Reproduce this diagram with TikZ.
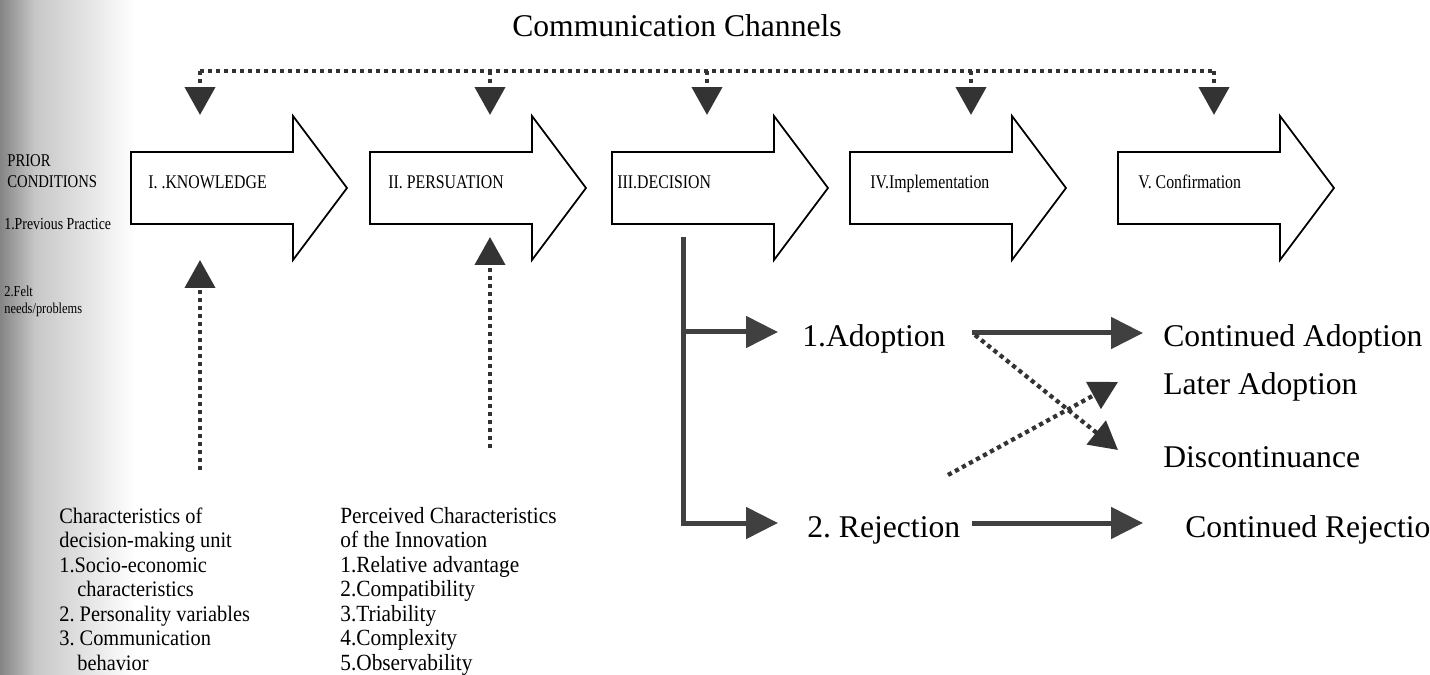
\documentclass[tikz,border=0pt]{standalone}
\usepackage{fontspec}
\setmainfont{Liberation Serif}
\newfontfamily\condfont{Liberation Serif}[FakeStretch=0.82]
\newfontfamily\narrowfont{Liberation Serif}[FakeStretch=0.92]
\usepackage{tikz}
\usetikzlibrary{arrows.meta, positioning}
\colorlet{dotgray}{black!80}
\colorlet{bargray}{black!75}
\frenchspacing

\begin{document}
\begin{tikzpicture}[x=0.02cm, y=-0.02cm,
    stage/.style={draw=black, fill=white, line width=1pt},
    stagelabel/.style={anchor=base west, inner sep=0pt, font=\condfont\fontsize{11}{13}\selectfont},
    sidelabel/.style={anchor=base west, inner sep=0pt, font=\condfont\fontsize{10.2}{12}\selectfont},
    dots/.style={draw=dotgray, line width=0.085cm, dash pattern=on 0.085cm off 0.075cm},
    dotarrow/.style={dots, -{Triangle[length=0.56cm, width=0.6cm]}},
    bar/.style={draw=bargray, line width=0.1cm, -{Triangle[length=0.64cm, width=0.62cm]}},
    outcome/.style={anchor=base west, inner sep=0pt, font=\fontsize{18}{21}\selectfont},
    listtext/.style={anchor=base west, inner sep=0pt, font=\narrowfont\fontsize{12.6}{14}\selectfont}]
  \useasboundingbox (0,0) rectangle (1430,675);
  \shade[left color=black!48, right color=black!22] (0,0) rectangle (35,675);
  \shade[left color=black!22, right color=white] (35,0) rectangle (135,675);

  % channels on top
  \node[anchor=base, inner sep=0pt, font=\fontsize{18}{21}\selectfont] (chan) at (677,37) {Communication Channels};
  \draw[dots] (200,71) -- (1214,71);
  \foreach \x [count=\i] in {200,490,707,971,1214} {
    \coordinate (ch\i) at (\x,71);
    \draw[dotarrow] (ch\i) -- (\x,115);
  }

  % the five stages
  \foreach \x/\lx/\name/\txt in {131/148/know/{I. .KNOWLEDGE}, 370/388/pers/{II. PERSUATION},
      612/617/dec/{III.DECISION}, 850/870/impl/{IV.Implementation}, 1118/1138/conf/{V. Confirmation}} {
    \draw[stage] (\x,152) -- ++(162,0) -- ++(0,-36) -- (\x+216,188) -- (\x+162,260) -- ++(0,-36) -- (\x,224) -- cycle;
    \node[stagelabel] (\name) at (\lx,189) {\txt};
  }

  % prior conditions
  \node[sidelabel] (prior) at (7,167) {PRIOR};
  \node[sidelabel] (cond) at (7,188) {CONDITIONS};
  \node[sidelabel, font=\condfont\fontsize{9.6}{11}\selectfont] (prev) at (4,230) {1.Previous Practice};
  \node[sidelabel, font=\condfont\fontsize{8.6}{10}\selectfont] (felt) at (4,297) {2.Felt};
  \node[sidelabel, font=\condfont\fontsize{8.6}{10}\selectfont] (needs) at (4,314) {needs/problems};

  % characteristics below
  \foreach \t [count=\i from 0] in {Characteristics of, decision-making unit, 1.Socio-economic,
      \hspace*{0.36cm}characteristics, 2. Personality variables, 3. Communication, \hspace*{0.36cm}behavior}
    \node[listtext] (unit\i) at (59,523+24.5*\i) {\t};
  \foreach \t [count=\i from 0] in {Perceived Characteristics, of the Innovation, 1.Relative advantage,
      2.Compatibility, 3.Triability, 4.Complexity, 5.Observability}
    \node[listtext, font=\narrowfont\fontsize{13.2}{14}\selectfont] (innov\i) at (340,523+24.5*\i) {\t};
  \coordinate (unit-up) at (200,470);
  \coordinate (innov-up) at (490,448);
  \draw[dotarrow] (unit-up) -- (200,260);
  \draw[dotarrow] (innov-up) -- (490,237);

  % decision outcomes
  \node[outcome] (adopt) at (802,347) {1.Adoption};
  \node[outcome] (reject) at (807,537) {2. Rejection};
  \node[outcome] (cadopt) at (1163,347) {Continued Adoption};
  \node[outcome] (later) at (1163,395) {Later Adoption};
  \node[outcome] (disc) at (1163,467) {Discontinuance};
  \node[outcome] (creject) at (1185,537) {Continued Rejection};

  \coordinate (trunk) at (683,237);
  \coordinate (trunk-a) at (683,332);
  \draw[bar] (trunk) |- (778,523);
  \draw[bar] (trunk-a) -- (778,332);
  \draw[bar] (972,333) -- (1143,333);
  \draw[bar] (972,523) -- (1143,523);
  \draw[dotarrow] (975,335) -- (1118,450);
  \draw[dotarrow] (948,475) -- (1118,382);
\end{tikzpicture}
\end{document}
